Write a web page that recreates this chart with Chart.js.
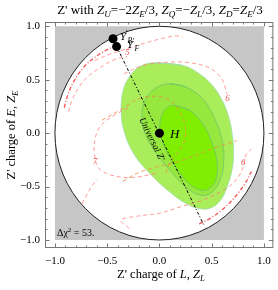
<!DOCTYPE html>
<html lang="en">
<head>
<meta charset="UTF-8">
<title>Z' charges</title>
<script src="https://cdn.jsdelivr.net/npm/chart.js"></script>
<style>
  body { margin: 0; background: #fff; }
</style>
</head>
<body>
<canvas id="myChart" width="278" height="290"></canvas>
<script>
// tick values on both axes
const xTicks = [-1, -0.5, 0, 0.5, 1];
const yTicks = [-1, -0.5, 0, 0.5, 1];

// allowed region: unit circle inside the [-1,1] square
const boxLimit = 1;
const circleRadius = 1;

// fit regions (outer, middle, inner)
const regionOuter = [[-0.058,0.658],[0.224,0.634],[0.381,0.556],[0.506,0.447],[0.600,0.307],[0.663,0.151],[0.700,-0.036],[0.710,-0.192],[0.694,-0.348],[0.647,-0.503],[0.585,-0.628],[0.491,-0.700],[0.381,-0.706],[0.255,-0.659],[0.098,-0.550],[-0.090,-0.379],[-0.246,-0.192],[-0.341,0.026],[-0.366,0.213],[-0.347,0.400],[-0.278,0.540],[-0.184,0.624]];
const regionMiddle = [[0.099,0.462],[0.255,0.431],[0.412,0.322],[0.522,0.151],[0.600,-0.067],[0.616,-0.254],[0.585,-0.425],[0.506,-0.550],[0.396,-0.581],[0.271,-0.519],[0.130,-0.379],[-0.027,-0.192],[-0.137,-0.005],[-0.168,0.151],[-0.137,0.307],[-0.043,0.416]];
const regionInner = [[0.146,0.260],[0.287,0.213],[0.412,0.088],[0.506,-0.098],[0.553,-0.285],[0.537,-0.441],[0.459,-0.528],[0.349,-0.519],[0.224,-0.410],[0.114,-0.254],[0.036,-0.098],[0.004,0.057],[0.029,0.182],[0.083,0.244]];

// red dashed contours
const contourTop = [[-0.62,0.68],[-0.47,0.74],[-0.31,0.79],[-0.15,0.84],[0.0,0.88],[0.15,0.91],[0.22,0.90]];
const contourRight = [[-0.34,0.556],[-0.15,0.634],[0.1,0.665],[0.32,0.655],[0.5,0.6],[0.6,0.5],[0.65,0.36]];
const contourLeftIn = [[-0.87,0.20],[-0.84,0.30],[-0.78,0.416],[-0.69,0.525],[-0.56,0.618],[-0.435,0.686],[-0.31,0.717]];
const contourSeven = [[-0.04,-0.376],[-0.2,-0.41],[-0.36,-0.413],[-0.51,-0.376],[-0.59,-0.316],[-0.62,-0.207],[-0.62,-0.067],[-0.56,0.073],[-0.435,0.166],[-0.3,0.238]];
const contourBottom = [[-0.29,-0.89],[-0.37,-0.815],[-0.2,-0.775],[0.0,-0.75],[0.2,-0.69],[0.43,-0.62],[0.62,-0.53],[0.74,-0.43],[0.8,-0.32],[0.83,-0.2],[0.88,-0.15]];
const contourLowLeft = [[-0.74,-0.66],[-0.68,-0.55],[-0.6,-0.43]];
// darker dash-dot ones hugging the circle
const edgeUpperLeft = [[-0.911,0.238],[-0.867,0.384],[-0.804,0.509],[-0.723,0.618],[-0.623,0.705],[-0.529,0.767],[-0.435,0.811]];
const edgeLowerRight = [[0.38,-0.85],[0.5,-0.79],[0.62,-0.70],[0.73,-0.59],[0.82,-0.47],[0.88,-0.36]];
// orange ones around H
const orangeLoop = [[-0.55,0.12],[-0.356,0.229],[-0.2,0.32],[-0.027,0.344],[0.11,0.3],[0.21,0.17],[0.25,0.05],[0.24,-0.07],[0.18,-0.18],[0.11,-0.26],[0.05,-0.4]];
const orangeDiag = [[-0.35,-0.45],[-0.2,-0.37],[-0.04,-0.32],[0.2,-0.26],[0.55,-0.13],[0.74,-0.07]];

// model points
const modelX = [-0.444, -0.41];
const modelY = [0.883, 0.81];
const higgsPt = [0, 0];
const universalLine = [[-0.41, 0.81], [0.43, -0.87]];

function toXY(arr) { return arr.map(p => ({ x: p[0], y: p[1] })); }
function closed(arr) { return toXY(arr.concat([arr[0], arr[1]])); }

const datasets = [];
function region(arr, fillColor, lineColor) {
  datasets.push({
    data: closed(arr), showLine: true, pointRadius: 0, tension: 0.4,
    borderColor: lineColor, borderWidth: 0.8, backgroundColor: fillColor, fill: 'shape'
  });
}
region(regionOuter, '#a9ee5a', '#9fdcb0');
region(regionMiddle, '#97e83e', '#6fc36a');
region(regionInner, '#7fee02', '#6fc36a');

function dashed(arr, color, dash, w) {
  datasets.push({
    data: toXY(arr), showLine: true, pointRadius: 0, tension: 0.35,
    borderColor: color, borderWidth: w || 1, borderDash: dash, fill: false
  });
}
const pink = 'rgba(255,120,120,0.75)';
dashed(contourTop, pink, [4, 3]);
dashed(contourRight, pink, [4, 3]);
dashed(contourLeftIn, pink, [4, 3]);
dashed(contourSeven, pink, [4, 3]);
dashed(contourBottom, pink, [4, 3]);
dashed(contourLowLeft, pink, [4, 3]);
dashed(edgeUpperLeft, 'rgba(240,40,40,0.8)', [4, 2, 1, 2], 1.3);
dashed(edgeLowerRight, 'rgba(240,40,40,0.8)', [4, 2, 1, 2], 1.3);
dashed(orangeLoop, 'rgba(235,140,70,0.8)', [4, 3]);
dashed(orangeDiag, 'rgba(235,140,70,0.8)', [4, 3]);
datasets.push({
  data: toXY(universalLine), showLine: true, pointRadius: 0,
  borderColor: '#000', borderWidth: 1, borderDash: [3, 2, 1, 2]
});
datasets.push({
  data: modelX.map((v, i) => ({ x: v, y: modelY[i] })).concat([{ x: higgsPt[0], y: higgsPt[1] }]),
  showLine: false, pointRadius: 4.5, pointBackgroundColor: '#000', pointBorderWidth: 0
});
// later datasets go on top
datasets.forEach((d, i) => { d.order = datasets.length - i; });

const serif = '"Liberation Serif", "DejaVu Serif", serif';

// draw text made of pieces: {t, it, sub, sup}
function richText(ctx, parts, x, y, size, align) {
  const fontOf = p => (p.it ? 'italic ' : '') + (p.sub || p.sup ? size * 0.7 : size) + 'px ' + serif;
  let w = 0;
  parts.forEach(p => { ctx.font = fontOf(p); w += ctx.measureText(p.t).width; });
  let cx = align === 'center' ? x - w / 2 : x;
  ctx.textBaseline = 'alphabetic';
  ctx.textAlign = 'left';
  parts.forEach(p => {
    ctx.font = fontOf(p);
    const dy = p.sub ? size * 0.25 : (p.sup ? -size * 0.4 : 0);
    ctx.fillText(p.t, cx, y + dy);
    cx += ctx.measureText(p.t).width;
  });
}

const bgPlugin = {
  id: 'bg',
  beforeDatasetsDraw(chart) {
    const { ctx, scales: { x, y } } = chart;
    ctx.save();
    ctx.fillStyle = '#c6c6c6';
    const l = x.getPixelForValue(-boxLimit), r = x.getPixelForValue(boxLimit);
    const t = y.getPixelForValue(boxLimit), b = y.getPixelForValue(-boxLimit);
    ctx.fillRect(l, t, r - l, b - t);
    ctx.beginPath();
    ctx.ellipse(x.getPixelForValue(0), y.getPixelForValue(0),
      x.getPixelForValue(circleRadius) - x.getPixelForValue(0),
      y.getPixelForValue(0) - y.getPixelForValue(circleRadius), 0, 0, 2 * Math.PI);
    ctx.fillStyle = '#fff';
    ctx.fill();
    ctx.strokeStyle = '#222';
    ctx.lineWidth = 1;
    ctx.stroke();
    ctx.restore();
  }
};

const overlayPlugin = {
  id: 'overlay',
  afterDraw(chart) {
    const { ctx, chartArea: a, scales: { x, y } } = chart;
    ctx.save();
    // frame with inward ticks on all sides
    ctx.strokeStyle = '#777';
    ctx.lineWidth = 1;
    ctx.strokeRect(a.left + 0.5, a.top + 0.5, a.right - a.left - 1, a.bottom - a.top - 1);
    ctx.beginPath();
    for (let k = -10; k <= 10; k++) {
      const v = k / 10;
      const len = k % 5 === 0 ? 4.5 : 2.5;
      const px = Math.round(x.getPixelForValue(v)) + 0.5;
      const py = Math.round(y.getPixelForValue(v)) + 0.5;
      ctx.moveTo(px, a.bottom); ctx.lineTo(px, a.bottom - len);
      ctx.moveTo(px, a.top); ctx.lineTo(px, a.top + len);
      ctx.moveTo(a.left, py); ctx.lineTo(a.left + len, py);
      ctx.moveTo(a.right, py); ctx.lineTo(a.right - len, py);
    }
    ctx.stroke();

    ctx.fillStyle = '#000';
    // title
    richText(ctx, [
      { t: "Z' with " }, { t: 'Z', it: true }, { t: 'U', it: true, sub: true }, { t: '=\u22122' },
      { t: 'Z', it: true }, { t: 'E', it: true, sub: true }, { t: '/3, ' },
      { t: 'Z', it: true }, { t: 'Q', it: true, sub: true }, { t: '=\u2212' },
      { t: 'Z', it: true }, { t: 'L', it: true, sub: true }, { t: '/3, ' },
      { t: 'Z', it: true }, { t: 'D', it: true, sub: true }, { t: '=' },
      { t: 'Z', it: true }, { t: 'E', it: true, sub: true }, { t: '/3' }
    ], 160, 14, 13, 'center');
    // x title
    richText(ctx, [
      { t: "Z' charge of " }, { t: 'L', it: true }, { t: ', ' },
      { t: 'Z', it: true }, { t: 'L', it: true, sub: true }
    ], 161, 278, 12.5, 'center');
    // y title
    ctx.save();
    ctx.translate(15, 135);
    ctx.rotate(-Math.PI / 2);
    richText(ctx, [
      { t: "Z' charge of " }, { t: 'E', it: true }, { t: ', ' },
      { t: 'Z', it: true }, { t: 'E', it: true, sub: true }
    ], 0, 0, 12.5, 'center');
    ctx.restore();

    // annotations
    richText(ctx, [{ t: 'H', it: true }], x.getPixelForValue(0.1), y.getPixelForValue(0) + 5, 13, 'left');
    richText(ctx, [{ t: 'Y', it: true }, { t: "'", sup: true }, { t: 'B', it: true, sub: true }], 120, 40, 11, 'left');
    richText(ctx, [{ t: 'Y', it: true }, { t: "'", sup: true }, { t: 'F', it: true, sub: true }], 127, 48, 11, 'left');
    richText(ctx, [{ t: '\u0394\u03c7' }, { t: '2', sup: true }, { t: ' = 53.' }], 57, 236, 10, 'left');

    ctx.fillStyle = 'rgba(240,60,60,0.85)';
    const labs = [['5', -0.31, 0.76], ['6', 0.65, 0.33], ['6', 0.8, -0.27], ['7', -0.62, -0.26]];
    labs.forEach(s => richText(ctx, [{ t: s[0], it: true }], x.getPixelForValue(s[1]) - 2, y.getPixelForValue(s[2]) + 3, 9, 'left'));

    // label along the universal line
    ctx.fillStyle = '#000';
    ctx.save();
    ctx.translate(152, 139);
    ctx.rotate(Math.atan2(y.getPixelForValue(-0.87) - y.getPixelForValue(0.81), x.getPixelForValue(0.43) - x.getPixelForValue(-0.41)));
    richText(ctx, [{ t: "Universal Z'", it: true }], 0, 3, 9.5, 'center');
    ctx.restore();
    ctx.restore();
  }
};

const fmt = v => (v < 0 ? '\u2212' : '') + Math.abs(v).toFixed(1);

const ctx = document.getElementById('myChart').getContext('2d');
const myChart = new Chart(ctx, {
  type: 'scatter',
  data: { datasets: datasets },
  options: {
    responsive: false,
    animation: false,
    layout: { padding: { top: 22, right: 1, left: 0, bottom: 0 } },
    plugins: { legend: { display: false }, tooltip: { enabled: false } },
    scales: {
      x: {
        min: -1.095, max: 1.09,
        afterFit: s => { s.height = 42; },
        afterBuildTicks: s => { s.ticks = xTicks.map(v => ({ value: v })); },
        grid: { display: false, drawTicks: false },
        border: { display: false },
        ticks: { padding: 7, color: '#000', font: { family: serif, size: 11 }, callback: fmt, maxRotation: 0, autoSkip: false }
      },
      y: {
        min: -1.075, max: 1.04,
        afterFit: s => { s.width = 45; },
        afterBuildTicks: s => { s.ticks = yTicks.map(v => ({ value: v })); },
        grid: { display: false, drawTicks: false },
        border: { display: false },
        ticks: { padding: 5, color: '#000', font: { family: serif, size: 11 }, callback: fmt, autoSkip: false }
      }
    }
  },
  plugins: [bgPlugin, overlayPlugin]
});
</script>
</body>
</html>
